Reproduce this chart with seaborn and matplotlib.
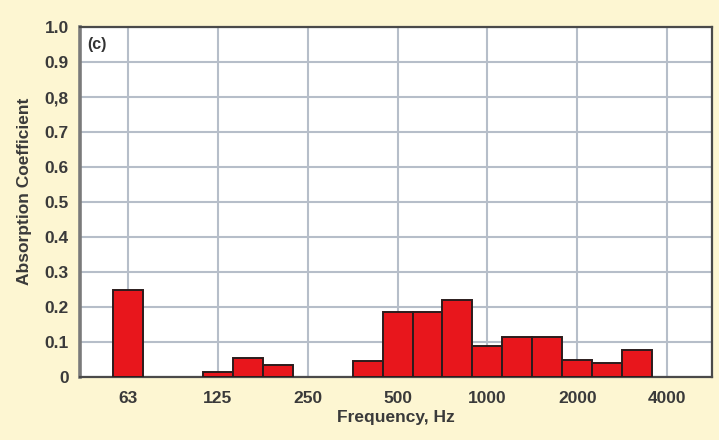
import numpy as np
import pandas as pd
import matplotlib
matplotlib.use("Agg")
import matplotlib.pyplot as plt
import seaborn as sns

# Data (nominal 1/3-octave band centres, Hz) and absorption coefficients
band_hz = [63, 125, 160, 200, 400, 500, 630, 800, 1000, 1250, 1600, 2000, 2500, 3150]
alpha = [0.25, 0.015, 0.055, 0.035, 0.047, 0.185, 0.185, 0.22, 0.09, 0.115, 0.115, 0.05, 0.04, 0.077]
tick_hz = [62.5, 125, 250, 500, 1000, 2000, 4000]
tick_labels = ["63", "125", "250", "500", "1000", "2000", "4000"]
y_ticks = [0, 0.1, 0.2, 0.3, 0.4, 0.5, 0.6, 0.7, 0.8, 0.9, 1.0]
y_labels = ["0", "0.1", "0.2", "0.3", "0.4", "0.5", "0.6", "0.7", "0,8", "0.9", "1.0"]

# exact (base-2) band centres for the nominal band names
centre = [1000 * 2 ** (round(3 * np.log2(f / 1000)) / 3) for f in band_hz]
df = pd.DataFrame({"freq": centre, "alpha": alpha})

sns.set_style("white")
plt.rcParams["font.family"] = ["Liberation Sans", "DejaVu Sans"]

bg = "#fdf6d2"
fig = plt.figure(figsize=(7.19, 4.40), dpi=100, facecolor=bg)
ax = fig.add_axes([80 / 719, 63 / 440, 632 / 719, 350 / 440])
ax.set_facecolor("white")

sns.barplot(data=df, x="freq", y="alpha", native_scale=True, log_scale=(2, False),
            width=1.0, color="#e8161c", saturation=1, edgecolor="#2b1c1c",
            linewidth=1.4, ax=ax, zorder=3)

ax.set_xlim(43.1, 5660)
ax.set_ylim(0, 1.0)
ax.set_xticks(tick_hz)
ax.set_xticklabels(tick_labels)
ax.minorticks_off()
ax.set_yticks(y_ticks)
ax.set_yticklabels(y_labels)

ax.grid(True, color="#b6bec9", linewidth=1.5, zorder=0)
ax.set_axisbelow(True)

for side in ["top", "right", "bottom"]:
    ax.spines[side].set_visible(True)
    ax.spines[side].set_color("#4a4a4a")
    ax.spines[side].set_linewidth(1.6)
ax.spines["left"].set_color("#7a7a7a")
ax.spines["left"].set_linewidth(2.6)

txt = "#3a3a3a"
ax.tick_params(axis="x", which="major", direction="out", length=4, width=1.3,
               color="#6a6a6a", labelsize=12.5, labelcolor=txt, pad=6)
ax.tick_params(axis="y", which="major", direction="out", length=4, width=1.3,
               color="#6a6a6a", labelsize=12.5, labelcolor=txt, pad=4)
for lab in ax.get_xticklabels() + ax.get_yticklabels():
    lab.set_fontweight("bold")

ax.set_xlabel("Frequency, Hz", fontsize=12.5, fontweight="bold", color=txt, labelpad=3)
ax.set_ylabel("Absorption Coefficient", fontsize=12.5, fontweight="bold", color=txt)
ax.yaxis.set_label_coords(-0.076, 0.53)

ax.text(0.012, 0.97, "(c)", transform=ax.transAxes, fontsize=11.5, fontweight="bold",
        color="#333333", ha="left", va="top")

fig.savefig("out.png", dpi=100, facecolor=bg)
